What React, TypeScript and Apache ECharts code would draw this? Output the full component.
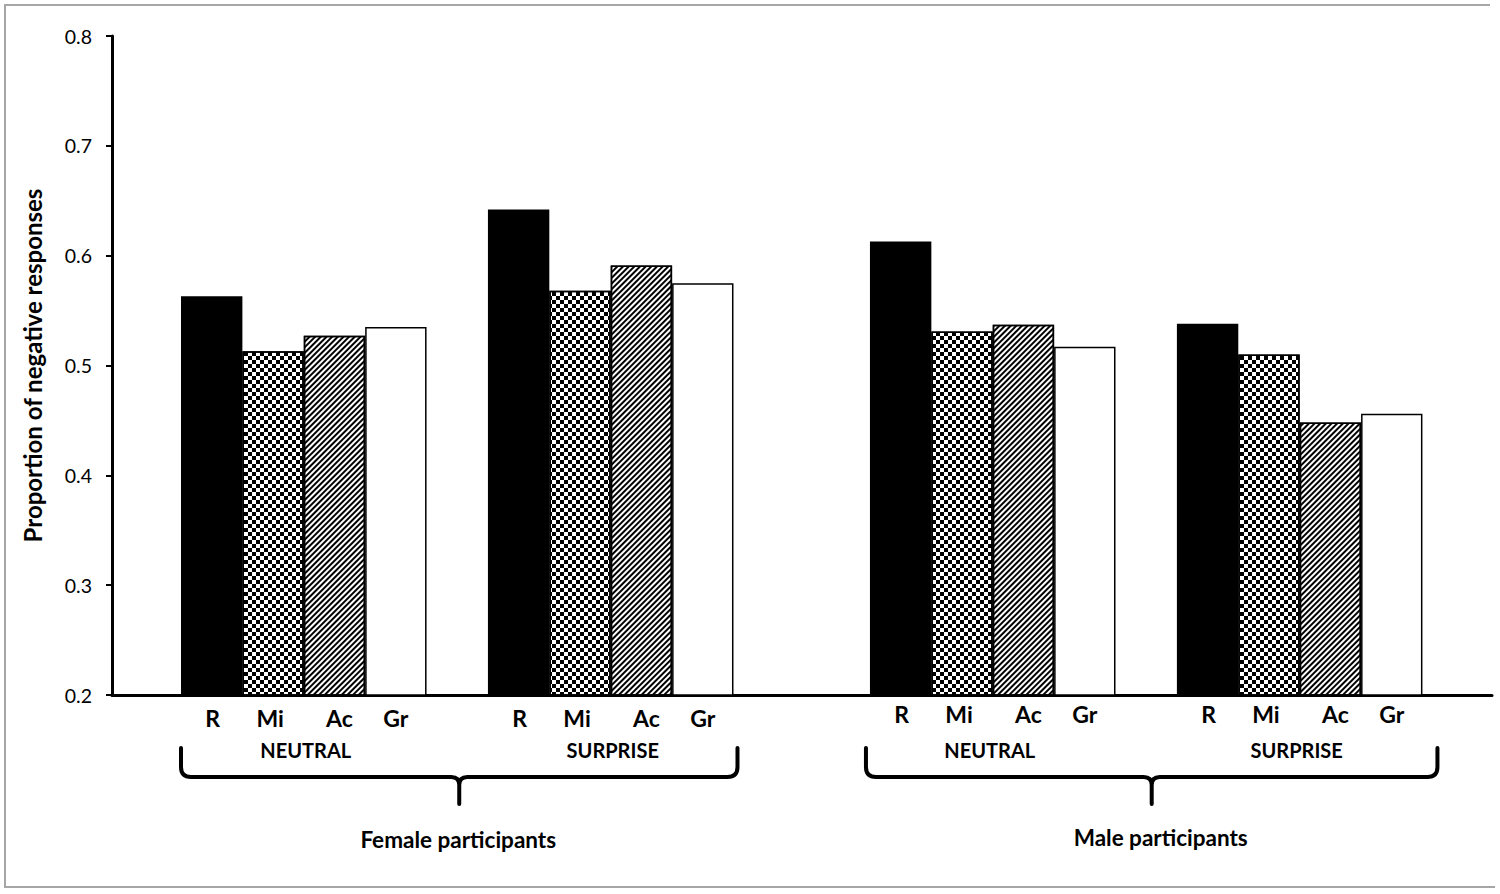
import React, { useEffect, useRef } from "react";
import * as echarts from "echarts";

// ---- data ----
const categories = ["R", "Mi", "Ac", "Gr"];
const conditions = ["NEUTRAL", "SURPRISE"];
const participants = ["Female participants", "Male participants"];
const femaleNeutral = [0.563, 0.513, 0.527, 0.535];
const femaleSurprise = [0.642, 0.568, 0.591, 0.575];
const maleNeutral = [0.613, 0.531, 0.537, 0.517];
const maleSurprise = [0.538, 0.51, 0.448, 0.456];
const yMin = 0.2;
const yMax = 0.8;
const yStep = 0.1;
const yTitle = "Proportion of negative responses";

// ---- layout ----
const groups = [femaleNeutral, femaleSurprise, maleNeutral, maleSurprise];
const groupStarts = [1.124, 6.124, 12.347, 17.347];
const labelOffsets = [1, -3, 5, 0];
const xMax = 22.48;
const FONT = "Lato, 'Open Sans', sans-serif";
const GRID = { left: 112, top: 36, right: 8, bottom: 199 };
const W = 1500;
const H = 894;

const styles: any[] = [
  { color: "#000", borderColor: "#000", borderWidth: 1.5 },
  {
    color: "#fff",
    borderColor: "#000",
    borderWidth: 1.5,
    decal: {
      symbol: "rect",
      symbolSize: 1,
      color: "#000",
      backgroundColor: "#fff",
      dashArrayX: [
        [4, 4],
        [0, 4, 4, 0],
      ],
      dashArrayY: [4, 0],
      rotation: 0,
    },
  },
  {
    color: "#fff",
    borderColor: "#000",
    borderWidth: 1.5,
    decal: {
      symbol: "rect",
      symbolSize: 1,
      color: "#000",
      backgroundColor: "#fff",
      dashArrayX: [1, 0],
      dashArrayY: [1.5, 1.8],
      rotation: -Math.PI / 4,
    },
  },
  { color: "#fff", borderColor: "#000", borderWidth: 1.5 },
];

export default function App() {
  const ref = useRef<HTMLDivElement>(null);
  useEffect(() => {
    if (!ref.current) return;
    const chart = echarts.init(ref.current, undefined, { renderer: "svg" });
    const gridWidth = W - GRID.left - GRID.right;
    const barWidth = gridWidth / xMax;

    const data: any[] = [];
    groups.forEach((vals, g) => {
      vals.forEach((v, c) => {
        data.push({
          value: [groupStarts[g] + c + 0.5, v],
          itemStyle: styles[c],
          label: { distance: g < 2 ? 11 : 7, offset: [labelOffsets[c], 0] },
        });
      });
    });

    chart.setOption({
      animation: false,
      backgroundColor: "#fff",
      grid: { ...GRID, containLabel: false },
      xAxis: {
        type: "value",
        min: 0,
        max: xMax,
        axisLine: { show: true, onZero: false, lineStyle: { color: "#000", width: 3 } },
        axisTick: { show: false },
        axisLabel: { show: false },
        splitLine: { show: false },
      },
      yAxis: {
        type: "value",
        min: yMin,
        max: yMax,
        interval: yStep,
        name: yTitle,
        nameLocation: "middle",
        nameRotate: 90,
        nameGap: 68,
        nameTextStyle: { fontFamily: FONT, fontSize: 24, fontWeight: "bold", color: "#000" },
        axisLine: { show: true, lineStyle: { color: "#000", width: 3 } },
        axisTick: { show: true, length: 6, lineStyle: { color: "#000", width: 2 } },
        axisLabel: {
          fontFamily: FONT,
          fontSize: 19.5,
          color: "#000",
          margin: 20,
          formatter: (v: number) => v.toFixed(1),
        },
        splitLine: { show: false },
      },
      series: [
        {
          type: "bar",
          barWidth: barWidth,
          data,
          label: {
            show: true,
            position: "bottom",
            fontFamily: FONT,
            fontSize: 23,
            fontWeight: "bold",
            color: "#000",
            formatter: (p: any) => categories[p.dataIndex % categories.length],
          },
        },
      ],
    });

    const px = (x: number) => chart.convertToPixel({ xAxisIndex: 0 }, x) as number;
    const graphic: any[] = [];

    // frame (top, left, bottom)
    graphic.push({
      type: "polyline",
      shape: {
        points: [
          [1490, 5],
          [5, 5],
          [5, 887],
          [1495, 887],
        ],
      },
      style: { fill: "none", stroke: "#a6a6a6", lineWidth: 2 },
      silent: true,
    });

    // condition labels
    groups.forEach((_, g) => {
      const cx = px(groupStarts[g] + 2) + (g < 2 ? 2 : -3);
      graphic.push({
        type: "text",
        x: cx,
        y: 750,
        style: {
          text: conditions[g % 2],
          fill: "#000",
          fontFamily: FONT,
          fontSize: 20,
          fontWeight: "bold",
          align: "center",
          verticalAlign: "middle",
        },
      });
    });

    // braces + participant labels
    const yTop = 748;
    const yBot = 777;
    const yTip = 804;
    const braceSpec = [
      { l: px(groupStarts[0]), r: px(groupStarts[1] + 4) + 4, ty: 839 },
      { l: px(groupStarts[2]) - 4, r: px(groupStarts[3] + 4) + 15, ty: 837 },
    ];
    braceSpec.forEach((b, i) => {
      const mid = (b.l + b.r) / 2;
      const d =
        `M ${b.l} ${yTop} L ${b.l} ${yBot - 10} Q ${b.l} ${yBot} ${b.l + 10} ${yBot} ` +
        `L ${mid - 8} ${yBot} Q ${mid} ${yBot} ${mid} ${yBot + 8} L ${mid} ${yTip} ` +
        `M ${mid} ${yBot + 8} Q ${mid} ${yBot} ${mid + 8} ${yBot} ` +
        `L ${b.r - 10} ${yBot} Q ${b.r} ${yBot} ${b.r} ${yBot - 10} L ${b.r} ${yTop}`;
      const name = "brace" + i;
      echarts.graphic.registerShape(name, echarts.graphic.extendPath(d, {}) as any);
      graphic.push({
        type: name,
        x: 0,
        y: 0,
        scaleX: 1,
        scaleY: 1,
        style: { fill: "none", stroke: "#000", lineWidth: 4, lineCap: "round", lineJoin: "round" },
        silent: true,
      });
      graphic.push({
        type: "text",
        x: mid + (i === 1 ? 9 : -1),
        y: b.ty,
        style: {
          text: participants[i],
          fill: "#000",
          fontFamily: FONT,
          fontSize: 22.5,
          fontWeight: "bold",
          align: "center",
          verticalAlign: "middle",
        },
      });
    });

    chart.setOption({ graphic });

    return () => {
      chart.dispose();
    };
  }, []);

  return (
    <div
      ref={ref}
      style={{ position: "fixed", left: 0, top: 0, width: W, height: H, background: "#fff" }}
    />
  );
}
